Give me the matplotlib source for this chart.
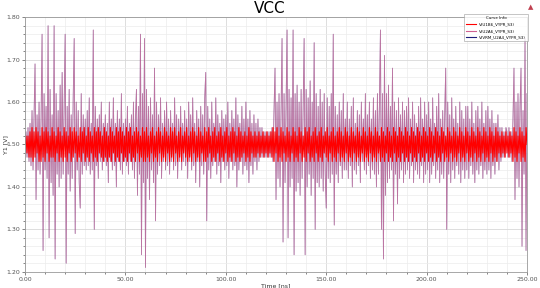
import numpy as np
import matplotlib
matplotlib.use("Agg")
import matplotlib.pyplot as plt
from matplotlib.ticker import MultipleLocator, FormatStrFormatter

# Time base: 0 .. 250 ns, 0.5 ns step (501 samples)
time_ns = np.arange(0, 250.5, 0.5)

# V(U1B6_VYPR_S3) - red trace [V]
u1b6_v = [
    1.50, 1.52, 1.48, 1.52, 1.47, 1.53, 1.47, 1.54, 1.46, 1.53, 1.47, 1.54, 1.48, 1.53, 1.46, 1.52, 1.46, 1.54, 1.47, 1.53,
    1.46, 1.54, 1.48, 1.53, 1.46, 1.52, 1.47, 1.54, 1.47, 1.53, 1.46, 1.52, 1.48, 1.54, 1.46, 1.53, 1.47, 1.52, 1.46, 1.54,
    1.47, 1.53, 1.46, 1.52, 1.48, 1.54, 1.46, 1.53, 1.47, 1.54, 1.48, 1.53, 1.46, 1.52, 1.47, 1.54, 1.46, 1.53, 1.48, 1.54,
    1.46, 1.52, 1.47, 1.54, 1.46, 1.53, 1.48, 1.52, 1.46, 1.54, 1.47, 1.53, 1.46, 1.54, 1.48, 1.53, 1.47, 1.52, 1.46, 1.54,
    1.47, 1.53, 1.46, 1.52, 1.47, 1.54, 1.46, 1.53, 1.48, 1.52, 1.46, 1.54, 1.47, 1.53, 1.46, 1.54, 1.48, 1.53, 1.46, 1.52,
    1.47, 1.54, 1.46, 1.53, 1.48, 1.54, 1.46, 1.52, 1.47, 1.53, 1.46, 1.54, 1.48, 1.53, 1.46, 1.52, 1.47, 1.54, 1.46, 1.53,
    1.46, 1.54, 1.47, 1.52, 1.46, 1.53, 1.48, 1.54, 1.46, 1.52, 1.47, 1.53, 1.46, 1.54, 1.48, 1.53, 1.46, 1.52, 1.47, 1.54,
    1.46, 1.53, 1.48, 1.52, 1.46, 1.54, 1.47, 1.53, 1.46, 1.54, 1.48, 1.52, 1.46, 1.53, 1.47, 1.54, 1.46, 1.52, 1.48, 1.53,
    1.47, 1.54, 1.46, 1.52, 1.47, 1.53, 1.46, 1.54, 1.48, 1.53, 1.46, 1.52, 1.47, 1.54, 1.46, 1.53, 1.48, 1.52, 1.46, 1.54,
    1.46, 1.53, 1.47, 1.54, 1.48, 1.52, 1.46, 1.53, 1.47, 1.54, 1.46, 1.52, 1.48, 1.53, 1.46, 1.54, 1.47, 1.52, 1.46, 1.53,
    1.48, 1.54, 1.46, 1.52, 1.47, 1.53, 1.46, 1.54, 1.48, 1.53, 1.46, 1.52, 1.47, 1.54, 1.46, 1.53, 1.47, 1.52, 1.48, 1.53,
    1.46, 1.52, 1.47, 1.54, 1.46, 1.53, 1.48, 1.52, 1.47, 1.53, 1.47, 1.52, 1.48, 1.53, 1.47, 1.52, 1.48, 1.53, 1.47, 1.52,
    1.48, 1.53, 1.47, 1.52, 1.48, 1.53, 1.47, 1.54, 1.46, 1.53, 1.48, 1.54, 1.46, 1.52, 1.47, 1.54, 1.46, 1.53, 1.48, 1.52,
    1.46, 1.54, 1.47, 1.53, 1.46, 1.52, 1.48, 1.54, 1.46, 1.53, 1.47, 1.52, 1.46, 1.54, 1.48, 1.53, 1.46, 1.52, 1.47, 1.54,
    1.46, 1.53, 1.48, 1.54, 1.46, 1.52, 1.47, 1.53, 1.46, 1.54, 1.48, 1.52, 1.46, 1.53, 1.47, 1.54, 1.46, 1.52, 1.48, 1.53,
    1.47, 1.54, 1.46, 1.52, 1.48, 1.53, 1.46, 1.54, 1.47, 1.52, 1.46, 1.53, 1.48, 1.54, 1.46, 1.53, 1.47, 1.52, 1.46, 1.54,
    1.48, 1.53, 1.46, 1.52, 1.47, 1.54, 1.46, 1.53, 1.48, 1.52, 1.46, 1.54, 1.47, 1.53, 1.46, 1.52, 1.48, 1.54, 1.46, 1.53,
    1.47, 1.52, 1.46, 1.54, 1.48, 1.53, 1.46, 1.52, 1.47, 1.54, 1.46, 1.53, 1.48, 1.52, 1.46, 1.54, 1.47, 1.53, 1.46, 1.52,
    1.48, 1.54, 1.46, 1.53, 1.47, 1.52, 1.46, 1.54, 1.48, 1.53, 1.46, 1.52, 1.47, 1.54, 1.46, 1.53, 1.48, 1.52, 1.46, 1.54,
    1.47, 1.53, 1.46, 1.52, 1.48, 1.54, 1.46, 1.53, 1.47, 1.52, 1.46, 1.54, 1.48, 1.53, 1.46, 1.52, 1.47, 1.54, 1.46, 1.53,
    1.48, 1.52, 1.46, 1.54, 1.47, 1.53, 1.46, 1.52, 1.48, 1.54, 1.46, 1.53, 1.47, 1.52, 1.46, 1.54, 1.48, 1.53, 1.46, 1.52,
    1.47, 1.54, 1.46, 1.53, 1.48, 1.52, 1.46, 1.54, 1.47, 1.53, 1.46, 1.52, 1.48, 1.54, 1.46, 1.53, 1.47, 1.52, 1.46, 1.54,
    1.48, 1.53, 1.46, 1.52, 1.47, 1.54, 1.46, 1.53, 1.48, 1.52, 1.46, 1.54, 1.47, 1.53, 1.46, 1.52, 1.48, 1.54, 1.46, 1.53,
    1.47, 1.52, 1.46, 1.54, 1.48, 1.53, 1.46, 1.52, 1.47, 1.54, 1.46, 1.53, 1.48, 1.52, 1.47, 1.53, 1.48, 1.52, 1.47, 1.53,
    1.48, 1.52, 1.47, 1.53, 1.48, 1.52, 1.46, 1.54, 1.47, 1.53, 1.46, 1.52, 1.48, 1.54, 1.46, 1.53, 1.47, 1.52, 1.46, 1.54,
    1.50,
]

# V(U2A6_VYPR_S3) - pink trace with the large spikes [V]
u2a6_v = [
    1.50, 1.53, 1.47, 1.54, 1.46, 1.55, 1.45, 1.58, 1.44, 1.56, 1.69, 1.37, 1.57, 1.44, 1.60, 1.43, 1.56, 1.76, 1.25, 1.62,
    1.44, 1.59, 1.42, 1.78, 1.28, 1.63, 1.41, 1.57, 1.38, 1.78, 1.23, 1.62, 1.43, 1.58, 1.40, 1.64, 1.42, 1.67, 1.43, 1.60,
    1.76, 1.22, 1.59, 1.43, 1.63, 1.39, 1.57, 1.42, 1.61, 1.75, 1.29, 1.60, 1.44, 1.58, 1.41, 1.35, 1.62, 1.43, 1.57, 1.45,
    1.56, 1.44, 1.58, 1.45, 1.61, 1.43, 1.55, 1.44, 1.77, 1.30, 1.59, 1.45, 1.56, 1.42, 1.57, 1.46, 1.60, 1.44, 1.55, 1.46,
    1.57, 1.45, 1.55, 1.41, 1.60, 1.46, 1.56, 1.44, 1.61, 1.45, 1.55, 1.40, 1.58, 1.46, 1.56, 1.44, 1.62, 1.43, 1.55, 1.46,
    1.56, 1.45, 1.59, 1.43, 1.55, 1.46, 1.57, 1.44, 1.60, 1.42, 1.56, 1.63, 1.38, 1.59, 1.43, 1.76, 1.24, 1.62, 1.41, 1.75,
    1.21, 1.63, 1.42, 1.59, 1.37, 1.61, 1.44, 1.57, 1.41, 1.68, 1.32, 1.60, 1.43, 1.57, 1.45, 1.61, 1.42, 1.55, 1.46, 1.58,
    1.44, 1.60, 1.45, 1.56, 1.43, 1.58, 1.46, 1.55, 1.44, 1.61, 1.45, 1.57, 1.42, 1.56, 1.46, 1.59, 1.44, 1.55, 1.46, 1.58,
    1.45, 1.56, 1.42, 1.60, 1.46, 1.57, 1.44, 1.61, 1.45, 1.55, 1.41, 1.58, 1.46, 1.56, 1.40, 1.59, 1.45, 1.57, 1.43, 1.61,
    1.67, 1.32, 1.59, 1.44, 1.56, 1.42, 1.60, 1.45, 1.55, 1.46, 1.61, 1.43, 1.57, 1.45, 1.55, 1.41, 1.58, 1.46, 1.56, 1.44,
    1.57, 1.45, 1.60, 1.42, 1.55, 1.46, 1.58, 1.44, 1.56, 1.45, 1.61, 1.40, 1.57, 1.44, 1.55, 1.46, 1.59, 1.43, 1.56, 1.45,
    1.60, 1.44, 1.56, 1.41, 1.58, 1.45, 1.55, 1.43, 1.57, 1.46, 1.55, 1.44, 1.56, 1.46, 1.54, 1.47, 1.54, 1.47, 1.53, 1.47,
    1.53, 1.47, 1.53, 1.47, 1.53, 1.47, 1.54, 1.46, 1.58, 1.68, 1.37, 1.60, 1.42, 1.62, 1.40, 1.58, 1.75, 1.27, 1.62, 1.41,
    1.60, 1.77, 1.28, 1.63, 1.40, 1.61, 1.42, 1.77, 1.24, 1.62, 1.39, 1.64, 1.41, 1.60, 1.38, 1.63, 1.42, 1.59, 1.75, 1.24,
    1.63, 1.40, 1.61, 1.43, 1.65, 1.38, 1.60, 1.42, 1.74, 1.30, 1.62, 1.41, 1.59, 1.40, 1.63, 1.42, 1.60, 1.39, 1.62, 1.43,
    1.35, 1.61, 1.42, 1.59, 1.41, 1.62, 1.43, 1.76, 1.31, 1.59, 1.43, 1.57, 1.41, 1.60, 1.45, 1.58, 1.42, 1.62, 1.44, 1.56,
    1.44, 1.60, 1.42, 1.56, 1.45, 1.59, 1.40, 1.61, 1.44, 1.55, 1.43, 1.58, 1.45, 1.57, 1.41, 1.60, 1.46, 1.56, 1.44, 1.62,
    1.43, 1.57, 1.45, 1.60, 1.42, 1.56, 1.44, 1.61, 1.43, 1.58, 1.40, 1.62, 1.43, 1.60, 1.77, 1.30, 1.62, 1.23, 1.71, 1.38,
    1.62, 1.41, 1.64, 1.42, 1.59, 1.44, 1.68, 1.32, 1.60, 1.43, 1.58, 1.36, 1.61, 1.42, 1.57, 1.44, 1.60, 1.41, 1.58, 1.43,
    1.59, 1.44, 1.61, 1.42, 1.56, 1.45, 1.60, 1.41, 1.57, 1.44, 1.55, 1.43, 1.59, 1.42, 1.61, 1.45, 1.56, 1.41, 1.60, 1.43,
    1.57, 1.44, 1.60, 1.41, 1.56, 1.43, 1.61, 1.45, 1.55, 1.42, 1.59, 1.44, 1.62, 1.41, 1.56, 1.43, 1.58, 1.42, 1.57, 1.68,
    1.30, 1.60, 1.43, 1.57, 1.41, 1.61, 1.44, 1.56, 1.42, 1.59, 1.45, 1.55, 1.43, 1.60, 1.41, 1.58, 1.44, 1.56, 1.42, 1.59,
    1.44, 1.59, 1.42, 1.56, 1.45, 1.60, 1.43, 1.55, 1.41, 1.58, 1.44, 1.59, 1.43, 1.56, 1.45, 1.60, 1.42, 1.55, 1.44, 1.58,
    1.43, 1.59, 1.44, 1.56, 1.42, 1.58, 1.45, 1.55, 1.43, 1.55, 1.46, 1.57, 1.44, 1.54, 1.46, 1.54, 1.47, 1.53, 1.47, 1.54,
    1.53, 1.47, 1.54, 1.47, 1.53, 1.46, 1.56, 1.68, 1.37, 1.60, 1.42, 1.62, 1.40, 1.59, 1.68, 1.26, 1.58, 1.43, 1.75, 1.25,
    1.62,
]

# V(VRM_U2A4_VYPR_S3) - dark blue trace, lies right under the pink one
vrm_u2a4_v = list(u2a6_v)

labels = ["V(U1B6_VYPR_S3)", "V(U2A6_VYPR_S3)", "V(VRM_U2A4_VYPR_S3)"]

fig = plt.figure(figsize=(5.4, 2.88), dpi=100)
ax = fig.add_axes([0.0463, 0.0566, 0.9297, 0.8834])

# traces (blue first, pink over it -> mauve look, red on top)
l3, = ax.plot(time_ns, vrm_u2a4_v, color='#1c1c7a', lw=0.6, alpha=0.45, label=labels[2])
l2, = ax.plot(time_ns, u2a6_v, color='#d06090', lw=0.6, alpha=0.65, label=labels[1])
l1, = ax.plot(time_ns, u1b6_v, color='#ff0000', lw=0.8, label=labels[0])

ax.set_xlim(0, 250)
ax.set_ylim(1.20, 1.80)
ax.xaxis.set_major_locator(MultipleLocator(50))
ax.xaxis.set_minor_locator(MultipleLocator(10))
ax.yaxis.set_major_locator(MultipleLocator(0.1))
ax.yaxis.set_minor_locator(MultipleLocator(0.02))
ax.xaxis.set_major_formatter(FormatStrFormatter('%.2f'))
ax.yaxis.set_major_formatter(FormatStrFormatter('%.2f'))

ax.grid(which='major', color='#d8d8d8', lw=0.6)
ax.grid(which='minor', color='#ececec', lw=0.5)
ax.set_axisbelow(True)
ax.tick_params(which='both', labelsize=4.5, colors='#555555', length=2, width=0.5, pad=1.5)
ax.tick_params(which='minor', length=1.5)
for s in ax.spines.values():
    s.set_color('#999999')
    s.set_linewidth(0.6)

ax.set_xlabel("Time [ns]", fontsize=4.5, labelpad=1, color='#333333')
ax.set_ylabel("Y1 [V]", fontsize=4.5, color='#333333')
ax.yaxis.set_label_coords(-0.034, 0.5)
fig.text(0.5, 0.97, "VCC", ha='center', va='center', fontsize=11)
fig.text(0.983, 0.975, "▲", ha='center', va='center', fontsize=5, color='#c04050')

leg = fig.legend(handles=[l1, l2, l3], loc='upper right', bbox_to_anchor=(0.982, 0.958),
                 fontsize=2.9, title="Curve Info", title_fontsize=2.9, frameon=True,
                 fancybox=False, handlelength=2.5, borderpad=0.5, labelspacing=0.6)
leg.get_frame().set_edgecolor('#999999')
leg.get_frame().set_linewidth(0.5)
for h in leg.get_lines():
    h.set_alpha(1)
    h.set_linewidth(0.8)

fig.savefig("out.png", dpi=100)
